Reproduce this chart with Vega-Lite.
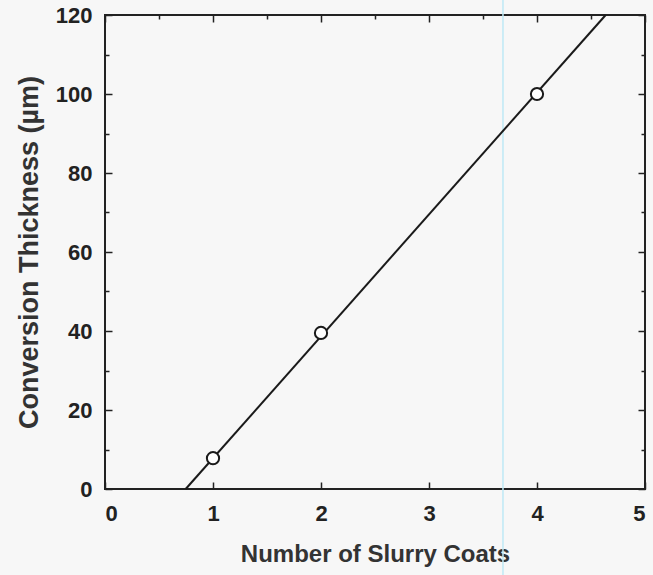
{
  "$schema": "https://vega.github.io/schema/vega-lite/v6.json",
  "width": 540,
  "height": 474,
  "autosize": {"type": "none"},
  "padding": {"left": 105, "top": 15, "right": 8, "bottom": 86},
  "background": "#f7f7f7",
  "config": {
    "view": {"stroke": "#222222", "strokeWidth": 2},
    "font": "Liberation Sans",
    "axis": {
      "domain": false,
      "grid": false,
      "tickColor": "#222222",
      "tickWidth": 1.5,
      "labelFont": "Liberation Sans",
      "labelFontWeight": "bold",
      "labelColor": "#222222",
      "titleFont": "Liberation Sans",
      "titleFontWeight": "bold",
      "titleColor": "#333333"
    }
  },
  "datasets": {
    "fit": [{"coats": 0.747, "thickness": 0}, {"coats": 4.636, "thickness": 120}],
    "pts": [{"coats": 1, "thickness": 7.8}, {"coats": 2, "thickness": 39.5}, {"coats": 4, "thickness": 100}],
    "artifact": [{"coats": 3.685, "lo": -22, "hi": 124}]
  },
  "layer": [
    {
      "data": {"name": "artifact"},
      "mark": {"type": "rule", "color": "#bfe9f6", "strokeWidth": 1.5, "clip": false},
      "encoding": {
        "x": {"field": "coats", "type": "quantitative", "scale": {"domain": [0, 5], "nice": false},
          "axis": {"orient": "bottom", "values": [0,0.5,1,1.5,2,2.5,3,3.5,4,4.5,5], "format": "d",
            "labelExpr": "datum.value % 1 === 0 ? datum.label : ''",
            "labelFontSize": 22,
            "tickSize": {"condition": {"test": "datum.value % 1 === 0", "value": -7}, "value": -4},
            "labelPadding": 21, "title": "Number of Slurry Coats", "titleFontSize": 24, "titlePadding": 18}},
        "y": {"field": "lo", "type": "quantitative", "scale": {"domain": [0, 120], "nice": false},
          "axis": {"orient": "left", "values": [0,10,20,30,40,50,60,70,80,90,100,110,120],
            "labelExpr": "datum.value % 20 === 0 ? datum.label : ''",
            "labelFontSize": 22,
            "tickSize": {"condition": {"test": "datum.value % 20 === 0", "value": -7}, "value": -4},
            "labelPadding": 20, "title": "Conversion Thickness (µm)", "titleFontSize": 27, "titlePadding": 12}},
        "y2": {"field": "hi"}
      }
    },
    {
      "data": {"name": "fit"},
      "mark": {"type": "line", "color": "#1a1a1a", "strokeWidth": 2},
      "encoding": {
        "x": {"field": "coats", "type": "quantitative",
          "axis": {"orient": "top", "values": [0,0.5,1,1.5,2,2.5,3,3.5,4,4.5,5], "labels": false, "title": null,
            "tickSize": {"condition": {"test": "datum.value % 1 === 0", "value": -7}, "value": -4}}},
        "y": {"field": "thickness", "type": "quantitative",
          "axis": {"orient": "right", "values": [0,10,20,30,40,50,60,70,80,90,100,110,120], "labels": false, "title": null,
            "tickSize": {"condition": {"test": "datum.value % 20 === 0", "value": -7}, "value": -4}}}
      }
    },
    {
      "data": {"name": "pts"},
      "mark": {"type": "point", "shape": "circle", "filled": true, "fill": "#ffffff", "stroke": "#1a1a1a", "strokeWidth": 2, "size": 150, "opacity": 1},
      "encoding": {
        "x": {"field": "coats", "type": "quantitative", "axis": null},
        "y": {"field": "thickness", "type": "quantitative", "axis": null}
      }
    }
  ],
  "resolve": {"axis": {"x": "independent", "y": "independent"}}
}
